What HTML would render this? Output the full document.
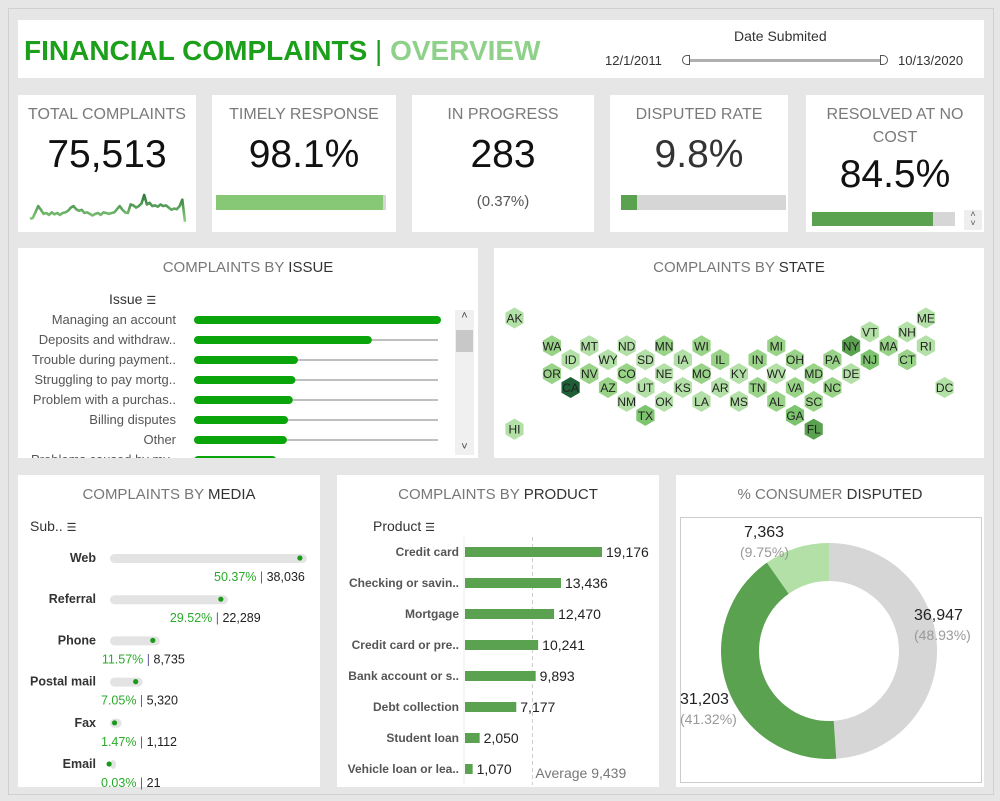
<!DOCTYPE html>
<html><head><meta charset="utf-8">
<style>
*{box-sizing:border-box;margin:0;padding:0}
body{width:1000px;height:801px;background:#e6e6e6;font-family:"Liberation Sans",sans-serif;position:relative;overflow:hidden}
.p{position:absolute;background:#fff}
.t{position:absolute;white-space:nowrap}
.kt{position:absolute;left:0;right:0;text-align:center;color:#7a7a7a;font-size:16px}
.kv{position:absolute;left:0;right:0;text-align:center;color:#111;font-size:39px}
.ht{position:absolute;left:0;right:0;text-align:center;color:#777;font-size:15px}
.ht b{color:#333;font-weight:normal}
svg{position:absolute;left:0;top:0}
</style></head><body>
<div class="p" style="left:8px;top:8px;width:986px;height:787px;background:#e6e6e6;border:1px solid #d0d0d0"></div>

<div class="p" style="left:18px;top:20px;width:966px;height:58px">
 <div class="t" style="left:6px;top:15px;font-size:28px;font-weight:bold;color:#1ca01c">FINANCIAL COMPLAINTS <span style="font-weight:normal;color:#1ca01c">|</span> <span style="color:#8fd18a">OVERVIEW</span></div>
 <div class="t" style="left:716px;top:8px;font-size:14px;color:#333">Date Submited</div>
 <div class="t" style="left:587px;top:33px;font-size:13px;color:#333">12/1/2011</div>
 <div class="t" style="left:880px;top:33px;font-size:13px;color:#333">10/13/2020</div>
 <div style="position:absolute;left:670px;top:39px;width:196px;height:3px;background:#b0b0b0"></div>
 <div style="position:absolute;left:664px;top:35px;width:8px;height:10px;border:1px solid #555;border-radius:5px 0 0 5px;background:#fff"></div>
 <div style="position:absolute;left:862px;top:35px;width:8px;height:10px;border:1px solid #555;border-radius:0 5px 5px 0;background:#fff"></div>
</div>

<!-- KPIs -->
<div class="p" style="left:18px;top:95px;width:178px;height:137px">
 <div class="kt" style="top:11px">TOTAL COMPLAINTS</div>
 <div class="kv" style="top:38px">75,513</div>
 <svg id="spark" width="178" height="137"></svg>
</div>
<div class="p" style="left:212px;top:95px;width:184px;height:137px">
 <div class="kt" style="top:11px">TIMELY RESPONSE</div>
 <div class="kv" style="top:38px">98.1%</div>
 <div style="position:absolute;left:4px;top:100px;width:170px;height:15px;background:#d6d6d6"><div style="width:98.1%;height:100%;background:#86c876"></div></div>
</div>
<div class="p" style="left:412px;top:95px;width:182px;height:137px">
 <div class="kt" style="top:11px">IN PROGRESS</div>
 <div class="kv" style="top:38px">283</div>
 <div class="kt" style="top:98px;color:#555;font-size:15px">(0.37%)</div>
</div>
<div class="p" style="left:610px;top:95px;width:178px;height:137px">
 <div class="kt" style="top:11px">DISPUTED RATE</div>
 <div class="kv" style="top:38px;color:#333">9.8%</div>
 <div style="position:absolute;left:11px;top:100px;width:165px;height:15px;background:#d6d6d6"><div style="width:9.8%;height:100%;background:#5aa150"></div></div>
</div>
<div class="p" style="left:806px;top:95px;width:178px;height:137px">
 <div class="kt" style="top:8px;line-height:23px">RESOLVED AT NO<br>COST</div>
 <div class="kv" style="top:58px">84.5%</div>
 <div style="position:absolute;left:6px;top:117px;width:143px;height:14px;background:#d6d6d6"><div style="width:84.5%;height:100%;background:#5aa150"></div></div>
 <div class="t" style="left:158px;top:115px;width:18px;height:20px;background:#eee;font-size:9px;text-align:center;line-height:9px;color:#555">˄<br>˅</div>
</div>

<!-- Issue -->
<div class="p" style="left:18px;top:248px;width:460px;height:210px;overflow:hidden">
 <div class="ht" style="top:11px">COMPLAINTS BY <b>ISSUE</b></div>
 <div class="t" style="left:91px;top:43px;font-size:14px;color:#333">Issue <span style="font-size:11px">☰</span></div>
 <svg id="issue" width="460" height="210"></svg>
 <div style="position:absolute;left:437px;top:62px;width:19px;height:145px;background:#f0f0f0"><div style="position:absolute;top:20px;left:1px;width:17px;height:22px;background:#c8c8c8"></div><div style="position:absolute;top:0;width:19px;text-align:center;font-size:11px;color:#444">˄</div><div style="position:absolute;bottom:2px;width:19px;text-align:center;font-size:11px;color:#444">˅</div></div>
</div>

<!-- State -->
<div class="p" style="left:494px;top:248px;width:490px;height:210px">
 <div class="ht" style="top:11px">COMPLAINTS BY <b>STATE</b></div>
</div>
<svg id="hex" width="1000" height="801" style="pointer-events:none"></svg>

<!-- Media -->
<div class="p" style="left:18px;top:475px;width:302px;height:312px">
 <div class="ht" style="top:11px">COMPLAINTS BY <b>MEDIA</b></div>
 <div class="t" style="left:12px;top:43px;font-size:14px;color:#333">Sub.. <span style="font-size:11px">☰</span></div>
</div>
<svg id="media" width="1000" height="801"></svg>

<!-- Product -->
<div class="p" style="left:337px;top:475px;width:322px;height:312px">
 <div class="ht" style="top:11px">COMPLAINTS BY <b>PRODUCT</b></div>
 <div class="t" style="left:36px;top:43px;font-size:14px;color:#333">Product <span style="font-size:11px">☰</span></div>
</div>
<svg id="prod" width="1000" height="801"></svg>

<!-- Donut -->
<div class="p" style="left:676px;top:475px;width:308px;height:312px">
 <div class="ht" style="top:11px">% CONSUMER <b>DISPUTED</b></div>
 <div style="position:absolute;left:4px;top:42px;width:302px;height:266px;border:1px solid #ccc"></div>
</div>
<svg id="donut" width="1000" height="801"></svg>

<script>
const NS='http://www.w3.org/2000/svg';
function mk(p,tag,a,txt){const e=document.createElementNS(NS,tag);for(const k in a)e.setAttribute(k,a[k]);if(txt!==undefined)e.textContent=txt;p.appendChild(e);return e;}

// Sparkline data
const sparkValues=[20,22,40,60,48,35,38,32,40,34,38,32,38,40,45,55,60,50,45,48,38,40,35,30,35,38,32,40,38,35,38,40,50,60,48,40,38,65,62,55,60,68,95,65,70,60,62,58,65,60,62,55,48,52,50,60,80,10];
// Issue data
const issueCats=["Managing an account","Deposits and withdraw..","Trouble during payment..","Struggling to pay mortg..","Problem with a purchas..","Billing disputes","Other","Problems caused by my.."];
const issueValues=[10500,7560,4420,4310,4200,4000,3950,3500];
// State data
const stateNames=["AK","ME","VT","NH","WA","MT","ND","MN","WI","MI","NY","MA","RI","ID","WY","SD","IA","IL","IN","OH","PA","NJ","CT","OR","NV","CO","NE","MO","KY","WV","MD","DE","CA","AZ","UT","KS","AR","TN","VA","NC","DC","NM","OK","LA","MS","AL","SC","TX","GA","HI","FL"];
const stateCol=[0,22,19,21,2,4,6,8,10,14,18,20,22,3,5,7,9,11,13,15,17,19,21,2,4,6,8,10,12,14,16,18,3,5,7,9,11,13,15,17,23,6,8,10,12,14,16,7,15,0,16];
const stateRow=[0,0,1,1,2,2,2,2,2,2,2,2,2,3,3,3,3,3,3,3,3,3,3,4,4,4,4,4,4,4,4,4,5,5,5,5,5,5,5,5,5,6,6,6,6,6,6,7,7,8,8];
const stateValues=[1,1,1,1,2,1,1,2,2,2,6,2,1,1,1,1,1,3,2,2,3,4,2,2,2,2,1,2,1,1,3,1,10,3,1,1,1,2,3,2,1,1,1,1,1,2,2,5,4,1,6];
// Media data
const mediaCats=["Web","Referral","Phone","Postal mail","Fax","Email"];
const mediaValues=[38036,22289,8735,5320,1112,21];
const mediaPct=["50.37%","29.52%","11.57%","7.05%","1.47%","0.03%"];
// Product data
const prodCats=["Credit card","Checking or savin..","Mortgage","Credit card or pre..","Bank account or s..","Debt collection","Student loan","Vehicle loan or lea.."];
const prodValues=[19176,13436,12470,10241,9893,7177,2050,1070];
// Donut data
const donutLabels=["36,947","31,203","7,363"];
const donutValues=[36947,31203,7363];
const donutPct=["(48.93%)","(41.32%)","(9.75%)"];

// sparkline
(function(){const s=document.getElementById('spark');const x0=12,x1=167,yb=130,yt=100;
const mx=Math.max(...sparkValues);const sx=i=>x0+i*(x1-x0)/(sparkValues.length-1);const sy=v=>yb-v/mx*(yb-yt);
const g=mk(s,'defs',{});const lg=mk(g,'linearGradient',{id:'sg',x1:0,y1:1,x2:0,y2:0});mk(lg,'stop',{offset:'0','stop-color':'#8fd080'});mk(lg,'stop',{offset:'1','stop-color':'#2d7a3a'});
const d=sparkValues.map((v,i)=>(i?'L':'M')+sx(i).toFixed(1)+','+sy(v).toFixed(1)).join('');
const p=mk(s,'path',{d:d,fill:'none',stroke:'url(#sg)','stroke-width':2.6,'stroke-linejoin':'round'});

})();

// issue
(function(){const s=document.getElementById('issue');const x0=176,x1=420;const mx=Math.max(...issueValues);
issueCats.forEach((c,i)=>{const y=72+i*20;
const t=mk(s,'text',{x:158,y:y+4,'text-anchor':'end','font-size':13,fill:'#555'},c);
if(i>0){const tr=mk(s,'line',{x1:x0,x2:x1,y1:y,y2:y,stroke:'#aaa','stroke-width':1.5});}
const w=issueValues[i]/mx*(x1-x0+3);const b=mk(s,'line',{x1:x0+4,x2:x0+w-4,y1:y,y2:y,stroke:'#0aa50a','stroke-width':8,'stroke-linecap':'round'});
});
})();

// hex map
(function(){const s=document.getElementById('hex');const mx=Math.max(...stateValues);
const colors=['#b3e0a6','#98d388','#7cc46e','#5aa150','#3d8546','#1f5e36'];
stateNames.forEach((n,i)=>{const cx=514.5+stateCol[i]*18.7,cy=318+stateRow[i]*13.9,r=11;
const k=Math.min(5,Math.floor((stateValues[i]-1)/mx*6+ (stateValues[i]>1?0.5:0)));
let pts=[];for(let j=0;j<6;j++){const a=Math.PI/180*(60*j-90);pts.push((cx+r*Math.cos(a)).toFixed(1)+','+(cy+r*Math.sin(a)).toFixed(1));}
const h=mk(s,'polygon',{points:pts.join(' '),fill:colors[k],stroke:'#fff','stroke-width':0.8});
const t=mk(s,'text',{x:cx,y:cy+4.5,'text-anchor':'middle','font-size':12,fill:'#222'},n);});
})();

// media
(function(){const s=document.getElementById('media');const x0=113,tot=mediaValues.reduce((a,b)=>a+b,0);const sc=379;
mediaCats.forEach((c,i)=>{const y=558+i*41.2;const w=mediaValues[i]/tot*sc;
const t=mk(s,'text',{x:96,y:y+4,'text-anchor':'end','font-size':12.5,'font-weight':'bold',fill:'#333'},c);
const tr=mk(s,'rect',{x:x0-3,y:y-4,width:w+6,height:9,rx:4.5,fill:'#e3e3e3'});
const d=mk(s,'circle',{cx:x0+w-4,cy:y,r:2.6,fill:'#1a9a1a'});
const cx=x0+w-4;let tw=102;let st=Math.max(101,Math.min(316-tw,cx-tw/2));
const g=mk(s,'text',{x:st,y:y+23,'font-size':12.5},'');
mk(g,'tspan',{fill:'#2aaa2a'},mediaPct[i]);mk(g,'tspan',{fill:'#6a5a9a'},' | ');mk(g,'tspan',{fill:'#222'},mediaValues[i].toLocaleString('en-US'));});
})();

// product
(function(){const s=document.getElementById('prod');const x0=465,sc=137/19176;
mk(s,'line',{x1:x0-1,x2:x0-1,y1:537,y2:785,stroke:'#eee'});
const avg=prodValues.reduce((a,b)=>a+b,0)/prodValues.length;const ax=x0+avg*sc;
const al=mk(s,'line',{x1:ax,x2:ax,y1:537,y2:785,stroke:'#ccc','stroke-dasharray':'4,3'});
const at=mk(s,'text',{x:ax+3,y:778,'font-size':14,fill:'#777'},'Average  '+Math.round(avg).toLocaleString('en-US'));
prodCats.forEach((c,i)=>{const y=552+i*31;const w=prodValues[i]*sc;
const t=mk(s,'text',{x:459,y:y+4,'text-anchor':'end','font-size':12,'font-weight':'bold',fill:'#555'},c);
const b=mk(s,'rect',{x:x0,y:y-5,width:w,height:10,fill:'#5aa150'});
const v=mk(s,'text',{x:x0+w+4,y:y+5,'font-size':14,fill:'#222'},prodValues[i].toLocaleString('en-US'));});
})();

// donut
(function(){const s=document.getElementById('donut');const cx=829,cy=651,R=108,r=70;const tot=donutValues.reduce((a,b)=>a+b,0);
const cols=['#d6d6d6','#5aa150','#b3e0a6'];let a0=0;
const lx=[914,680,744],ly=[620,704,537];
donutValues.forEach((v,i)=>{const a1=a0+v/tot*Math.PI*2;
const p=(a,rr)=>[(cx+rr*Math.sin(a)).toFixed(2),(cy-rr*Math.cos(a)).toFixed(2)];
const lg=(a1-a0)>Math.PI?1:0;const [x1,y1]=p(a0,R),[x2,y2]=p(a1,R),[x3,y3]=p(a1,r),[x4,y4]=p(a0,r);
const e=mk(s,'path',{d:`M${x1},${y1}A${R},${R} 0 ${lg} 1 ${x2},${y2}L${x3},${y3}A${r},${r} 0 ${lg} 0 ${x4},${y4}Z`,fill:cols[i]});

const t=mk(s,'text',{x:lx[i],y:ly[i],'font-size':16,fill:'#222'},donutLabels[i]);
const t2=mk(s,'text',{x:lx[i]-(i==2?4:0),y:ly[i]+20,'font-size':14,fill:'#999'},donutPct[i]);
a0=a1;});
})();
</script>
</body></html>
